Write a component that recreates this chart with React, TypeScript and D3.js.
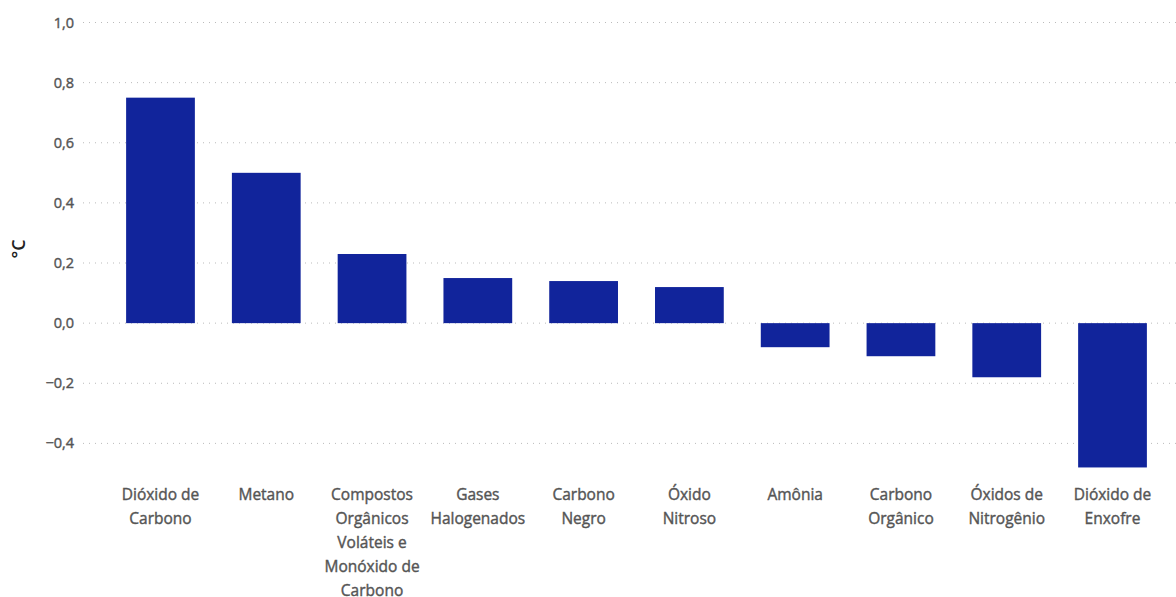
import React from "react";
import * as d3 from "d3";

const categories = [
  "Dióxido de Carbono",
  "Metano",
  "Compostos Orgânicos Voláteis e Monóxido de Carbono",
  "Gases Halogenados",
  "Carbono Negro",
  "Óxido Nitroso",
  "Amônia",
  "Carbono Orgânico",
  "Óxidos de Nitrogênio",
  "Dióxido de Enxofre",
];
const labelLines = [
  ["Dióxido de", "Carbono"],
  ["Metano"],
  ["Compostos", "Orgânicos", "Voláteis e", "Monóxido de", "Carbono"],
  ["Gases", "Halogenados"],
  ["Carbono", "Negro"],
  ["Óxido", "Nitroso"],
  ["Amônia"],
  ["Carbono", "Orgânico"],
  ["Óxidos de", "Nitrogênio"],
  ["Dióxido de", "Enxofre"],
];
const values = [0.75, 0.5, 0.23, 0.15, 0.14, 0.12, -0.08, -0.11, -0.18, -0.48];
const yTicks = [-0.4, -0.2, 0, 0.2, 0.4, 0.6, 0.8, 1.0];
const yTitle = "°C";

const W = 1176;
const H = 597;
const FONT = "'Open Sans', sans-serif";

export default function App() {
  const x = d3
    .scaleBand<string>()
    .domain(categories)
    .range([107.6, 1165.4])
    .paddingInner(0.35)
    .paddingOuter(0.175);
  const y = d3.scaleLinear().domain([-0.4, 1.0]).range([443.4, 22.5]);
  const fmt = (v: number) => d3.format(".1f")(v).replace(".", ",").replace("-", "–");
  const gridX0 = 83;

  return (
    <svg
      width={W}
      height={H}
      style={{ position: "absolute", left: 0, top: 0, background: "#fff" }}
    >
      {yTicks.map((t) => (
        <g key={t}>
          <line
            x1={gridX0}
            x2={W}
            y1={y(t)}
            y2={y(t)}
            stroke="#bbb"
            strokeWidth={1}
            strokeDasharray="1,5"
          />
          <text
            x={74}
            y={y(t)}
            dy="0.35em"
            textAnchor="end"
            fontFamily={FONT}
            fontSize={14.5}
            fill="#555"
            stroke="#555"
            strokeWidth={0.4}
          >
            {fmt(t)}
          </text>
        </g>
      ))}
      <text
        transform={`translate(25,249) rotate(-90)`}
        textAnchor="middle"
        fontFamily={FONT}
        fontWeight={600}
        fontSize={18}
        fill="#222"
      >
        {yTitle}
      </text>
      {categories.map((c, i) => {
        const v = values[i];
        const y0 = y(Math.max(0, v));
        const y1 = y(Math.min(0, v));
        return (
          <rect
            key={c}
            x={x(c)}
            width={x.bandwidth()}
            y={y0}
            height={y1 - y0}
            fill="#11249B"
          />
        );
      })}
      {categories.map((c, i) => (
        <text
          key={"l" + c}
          x={(x(c) || 0) + x.bandwidth() / 2}
          y={495}
          textAnchor="middle"
          fontFamily={FONT}
          fontSize={15.5}
          fill="#555"
          stroke="#555"
          strokeWidth={0.4}
        >
          {labelLines[i].map((ln, k) => (
            <tspan key={k} x={(x(c) || 0) + x.bandwidth() / 2} y={495 + k * 24} dy="0.35em">
              {ln}
            </tspan>
          ))}
        </text>
      ))}
    </svg>
  );
}
